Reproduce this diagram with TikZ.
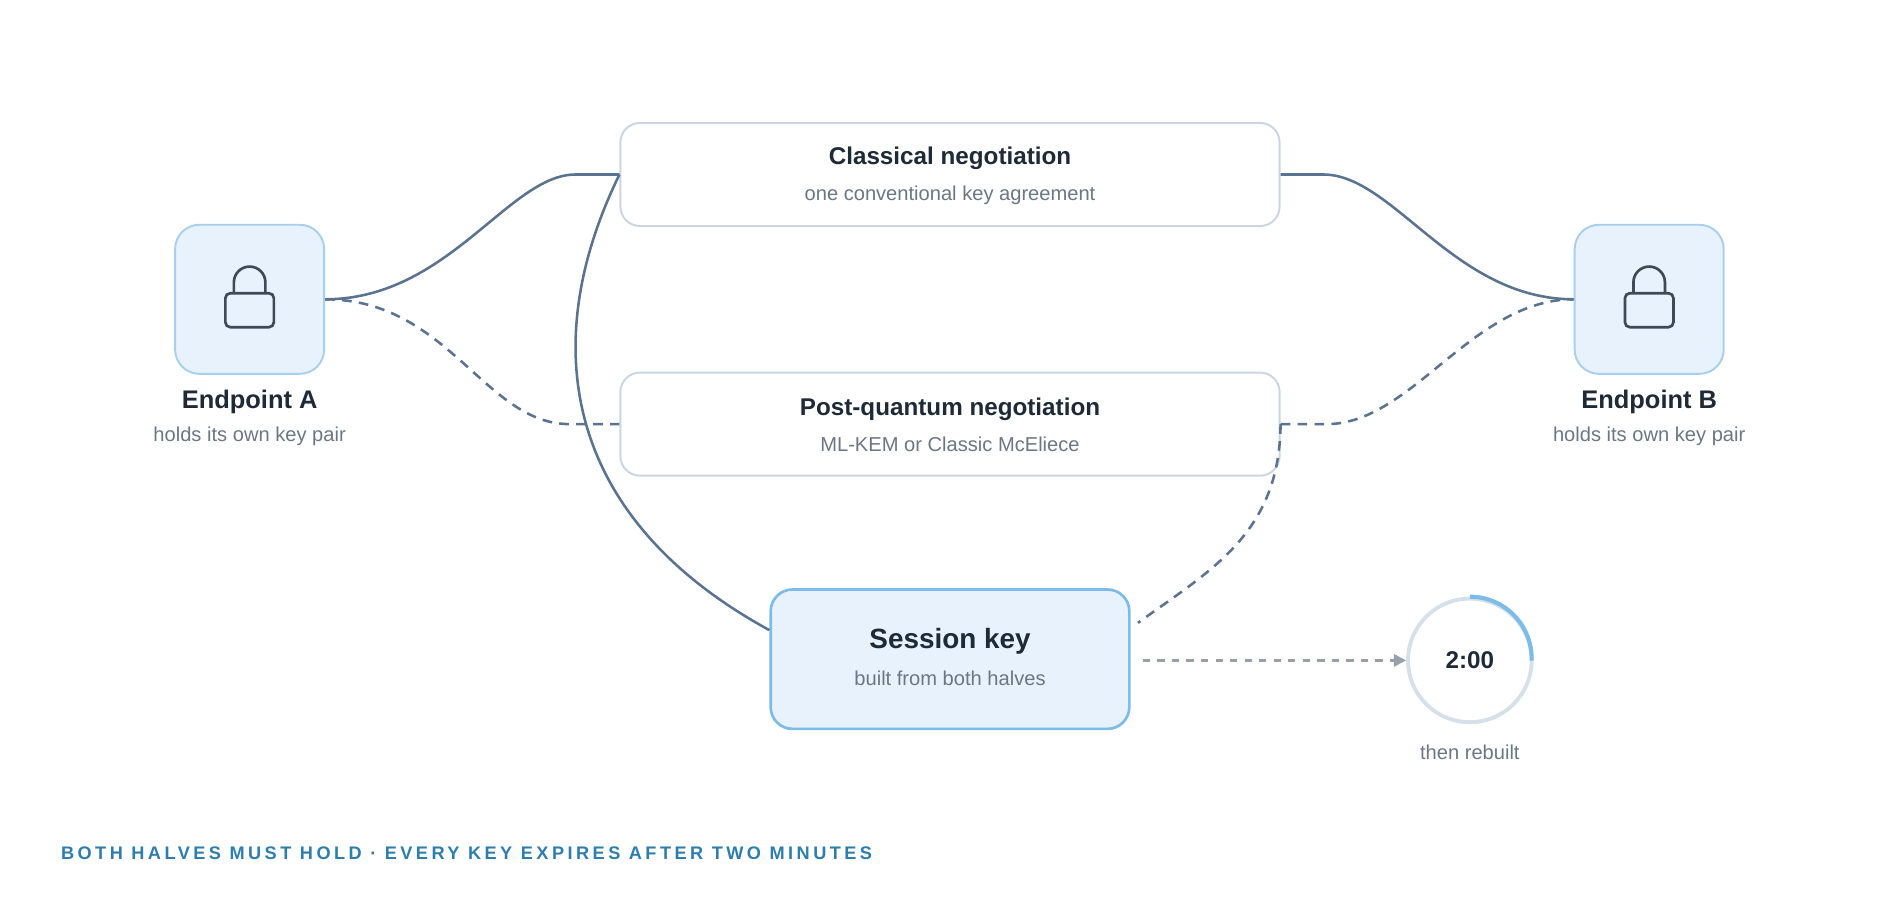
\documentclass[tikz,border=0pt]{standalone}
\usepackage{fontspec}
\setmainfont{Liberation Sans}
\usetikzlibrary{arrows.meta, positioning, calc}
\definecolor{kxline}{HTML}{5A7390}
\definecolor{kxborder}{HTML}{C9D6E2}
\definecolor{kxfill}{HTML}{E8F2FC}
\definecolor{kxblue}{HTML}{7DBBE8}
\definecolor{kxedge}{HTML}{A9CFEE}
\definecolor{kxdark}{HTML}{1E2A38}
\definecolor{kxgray}{HTML}{6B7785}
\definecolor{kxfoot}{HTML}{2E7DAF}
\definecolor{kxring}{HTML}{D5E0EA}

\begin{document}
\begin{tikzpicture}[x=0.5pt, y=-0.5pt,
    endpoint/.style={rectangle, rounded corners=10pt, draw=kxedge, line width=0.8pt, fill=kxfill, minimum width=61.5pt, minimum height=61.5pt},
    stage/.style={rectangle, rounded corners=8pt, draw=kxborder, line width=0.8pt, fill=white, minimum width=272pt, minimum height=42.5pt},
    session/.style={rectangle, rounded corners=9pt, draw=kxblue, line width=1.1pt, fill=kxfill, minimum width=148pt, minimum height=57.5pt},
    title/.style={font=\bfseries\fontsize{10}{12}\selectfont, text=kxdark},
    sub/.style={font=\fontsize{8.3}{10}\selectfont, text=kxgray},
    link/.style={draw=kxline, line width=1.05pt},
    dashlink/.style={link, dash pattern=on 4pt off 3pt}
]
\useasboundingbox (0,0) rectangle (1568,743);

% Endpoints
\node[endpoint] (epa) at (206,247) {};
\node[endpoint] (epb) at (1361,247) {};
\foreach \ep in {epa, epb}{
  \draw[kxdark!85, line width=1.1pt, rounded corners=2pt] ($(\ep)+(-20,-5)$) rectangle ($(\ep)+(20,23)$);
  \draw[kxdark!85, line width=1.1pt] ($(\ep)+(-13,-5)$) -- ($(\ep)+(-13,-14)$) arc[start angle=180, end angle=0, radius=6.5pt] -- ($(\ep)+(13,-5)$);
}
\node[title, font=\bfseries\fontsize{10.5}{12}\selectfont] (epat) at (206,332) {Endpoint A};
\node[sub] (epas) at (206,360) {holds its own key pair};
\node[title, font=\bfseries\fontsize{10.5}{12}\selectfont] (epbt) at (1361,332) {Endpoint B};
\node[sub] (epbs) at (1361,360) {holds its own key pair};

% Negotiations
\node[stage] (classic) at (784,144) {};
\node[title] at (784,131) {Classical negotiation};
\node[sub] at (784,161) {one conventional key agreement};
\node[stage] (pq) at (784,350) {};
\node[title] at (784,338) {Post-quantum negotiation};
\node[sub] at (784,367) {ML-KEM or Classic McEliece};

% Session key and timer
\node[session] (skey) at (784,544) {};
\node[title, font=\bfseries\fontsize{11.5}{13}\selectfont] at (784,529) {Session key};
\node[sub] at (784,560) {built from both halves};
\node[circle, draw=kxring, line width=1.6pt, minimum size=51pt, font=\bfseries\fontsize{10}{12}\selectfont, text=kxdark] (timer) at (1213,545) {2:00};
\draw[kxblue, line width=1.7pt] (timer.north) arc[start angle=90, end angle=-2, radius=25.5pt];
\node[sub] (rebuilt) at (1213,621) {then rebuilt};

% Connectors
\draw[link] (epa.east) .. controls (370,247) and (420,144) .. (475,144) -- (classic.west);
\draw[link] (classic.east) -- (1092,144) .. controls (1150,144) and (1200,247) .. (epb.west);
\draw[dashlink] (epa.east) .. controls (370,247) and (400,350) .. (470,350) -- (pq.west);
\draw[dashlink] (pq.east) -- (1095,350) .. controls (1165,350) and (1215,247) .. (epb.west);
\draw[link] (classic.west) .. controls (440,290) and (470,430) .. ($(skey.west)+(0,-24)$);
\draw[dashlink] (pq.east) .. controls (1056,440) and (1000,470) .. ($(skey.east)+(6,-30)$);
\draw[kxgray!70, line width=1pt, dash pattern=on 3pt off 3pt, -{Triangle[length=5pt, width=5pt]}] ($(skey.east)+(10,1)$) -- (timer.west);

% Footer
\node[anchor=west, inner sep=0pt, font=\bfseries\fontsize{7.5}{9}\selectfont\addfontfeatures{LetterSpace=19}, text=kxfoot] (foot) at (50,704) {BOTH HALVES MUST HOLD · EVERY KEY EXPIRES AFTER TWO MINUTES};
\end{tikzpicture}
\end{document}
